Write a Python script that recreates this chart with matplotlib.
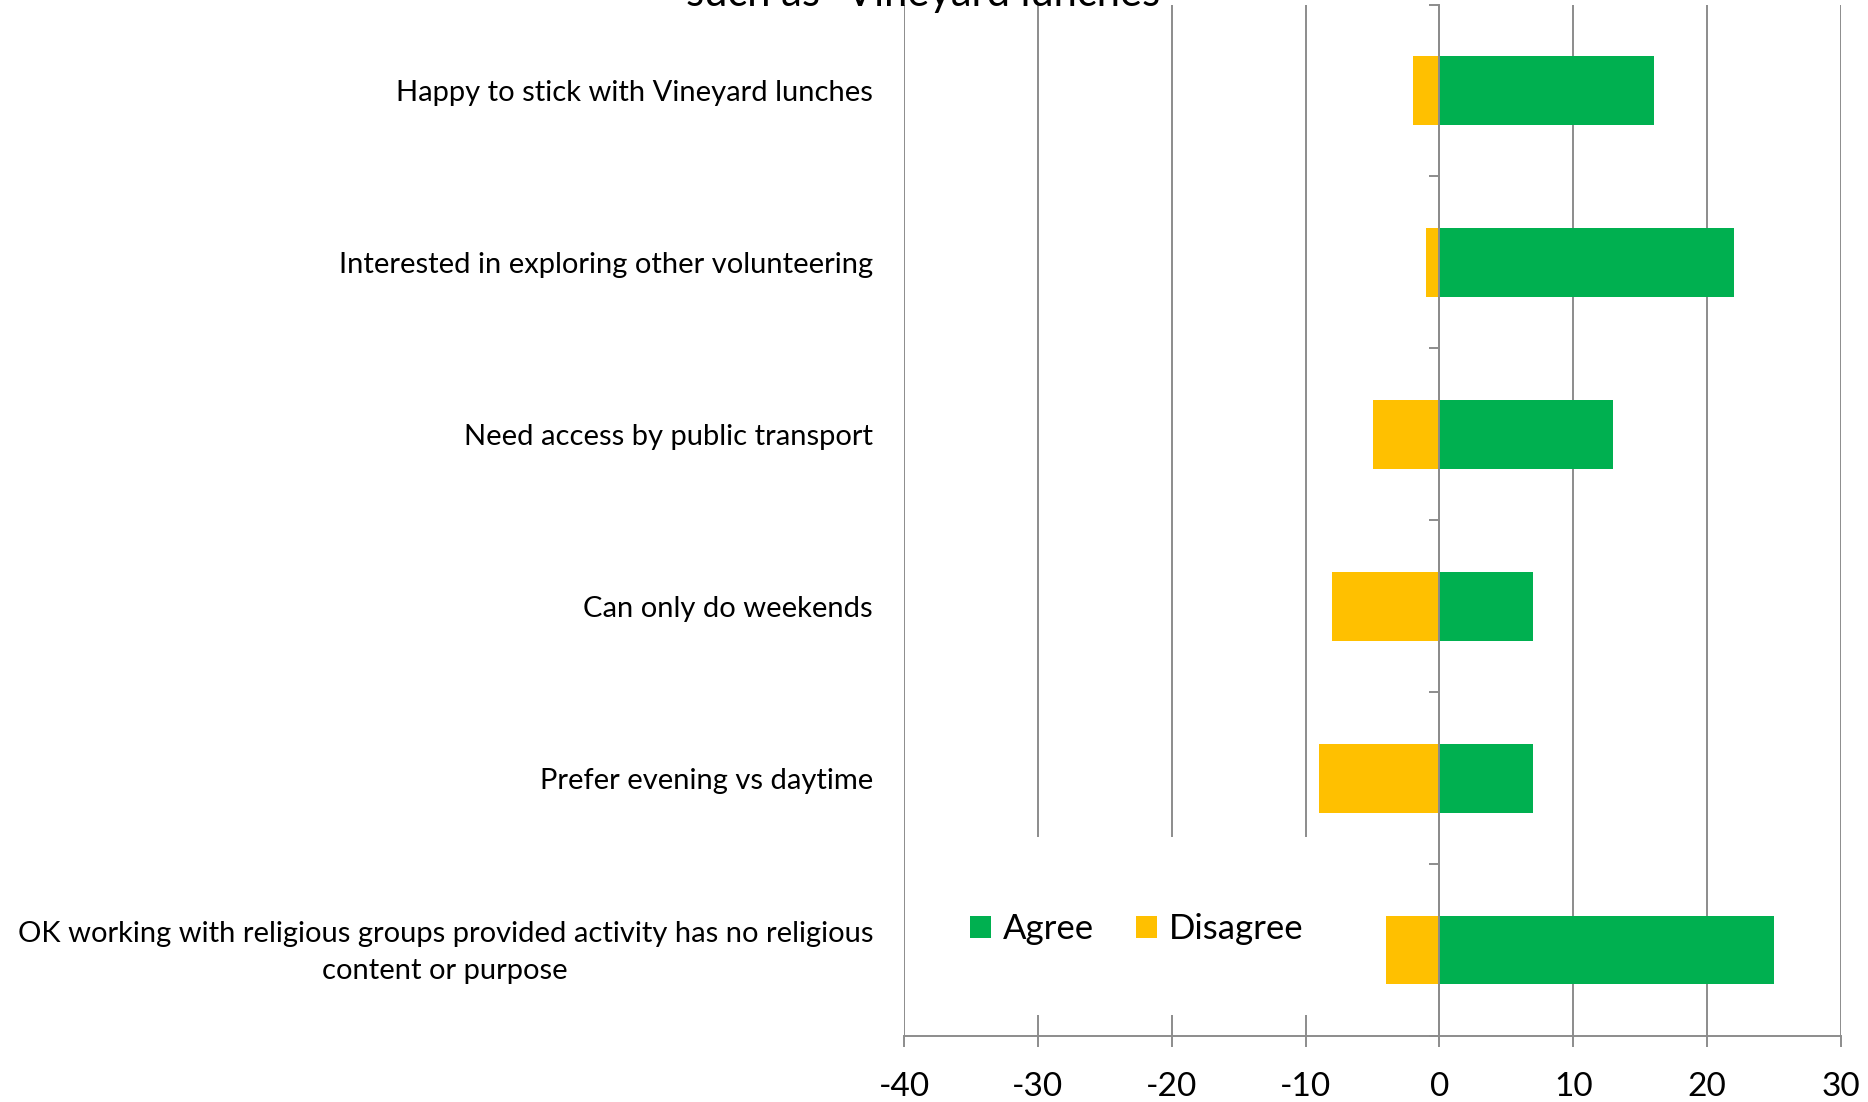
import numpy as np
import matplotlib
matplotlib.use("Agg")
import matplotlib.pyplot as plt
from matplotlib.patches import Rectangle
from matplotlib.transforms import blended_transform_factory

plt.rcParams['font.family'] = ['Lato', 'DejaVu Sans']

# ============ 数据 ============
categories = [
    "Happy to stick with Vineyard lunches",
    "Interested in exploring other volunteering",
    "Need access by public transport",
    "Can only do weekends",
    "Prefer evening vs daytime",
    "OK working with religious groups provided activity has no religious\ncontent or purpose",
]
agree = [16, 22, 13, 7, 7, 25]
disagree = [-2, -1, -5, -8, -9, -4]
x_ticks = [-40, -30, -20, -10, 0, 10, 20, 30]
title_tail = 'such as "Vineyard lunches"'

green = "#00B050"
yellow = "#FFC000"
grid_c = "#8C8C8C"

W, H = 1868, 1102
fig = plt.figure(figsize=(W / 100, H / 100), dpi=100)
# axes box in pixels: x -40 -> 904, 30 -> 1841 ; y top 4.5, bottom 1036
ax = fig.add_axes([904 / W, 1 - 1036 / H, (1841 - 904) / W, (1036 - 4.5) / H])

y = np.arange(len(categories))
ax.barh(y, agree, height=0.4, color=green, zorder=2, label="Agree")
ax.barh(y, disagree, height=0.4, color=yellow, zorder=2, label="Disagree")

ax.set_xlim(-40, 30)
ax.set_ylim(len(categories) - 0.5, -0.5)
ax.set_xticks(x_ticks)
ax.set_xticklabels([str(v) for v in x_ticks])
ax.xaxis.grid(True, color=grid_c, lw=1.4, zorder=0)
ax.set_axisbelow(True)
ax.tick_params(axis="x", direction="out", length=8, width=1.4, color=grid_c,
               pad=18, labelsize=24)

for s in ["top", "right"]:
    ax.spines[s].set_visible(False)
ax.spines["bottom"].set_color(grid_c)
ax.spines["bottom"].set_linewidth(1.4)
# y axis at zero, ticks between categories
ax.spines["left"].set_position(("data", 0))
ax.spines["left"].set_color(grid_c)
ax.spines["left"].set_linewidth(1.4)
ax.spines["left"].set_zorder(3)
ax.set_yticks(np.arange(len(categories) + 1) - 0.5)
ax.set_yticklabels([])
ax.tick_params(axis="y", direction="out", length=7, width=1.4, color=grid_c)

# category labels
tr = blended_transform_factory(ax.transAxes, ax.transData)
for i, c in enumerate(categories):
    ax.text(-31 / 937, i + 0.015, c, transform=tr, ha="right", va="center",
            multialignment="center", fontsize=21, linespacing=1.5)

# legend area (white box over gridlines)
ax.add_patch(Rectangle(((960 - 904) / 937, 1 - (1015 - 4.5) / 1031.5),
                       (1330 - 960) / 937, (1015 - 837) / 1031.5,
                       transform=ax.transAxes, facecolor="white",
                       edgecolor="none", zorder=1))
ax.legend(loc="center", bbox_to_anchor=((1137 - 904) / 937, 1 - (929 - 4.5) / 1031.5),
          ncol=2, frameon=False, fontsize=25, handlelength=0.6, handleheight=0.6,
          handletextpad=0.35, columnspacing=1.2)

fig.text(931 / W, 1 - 6 / H, title_tail, ha="center", va="baseline", fontsize=30)

fig.savefig("out.png", dpi=100)
